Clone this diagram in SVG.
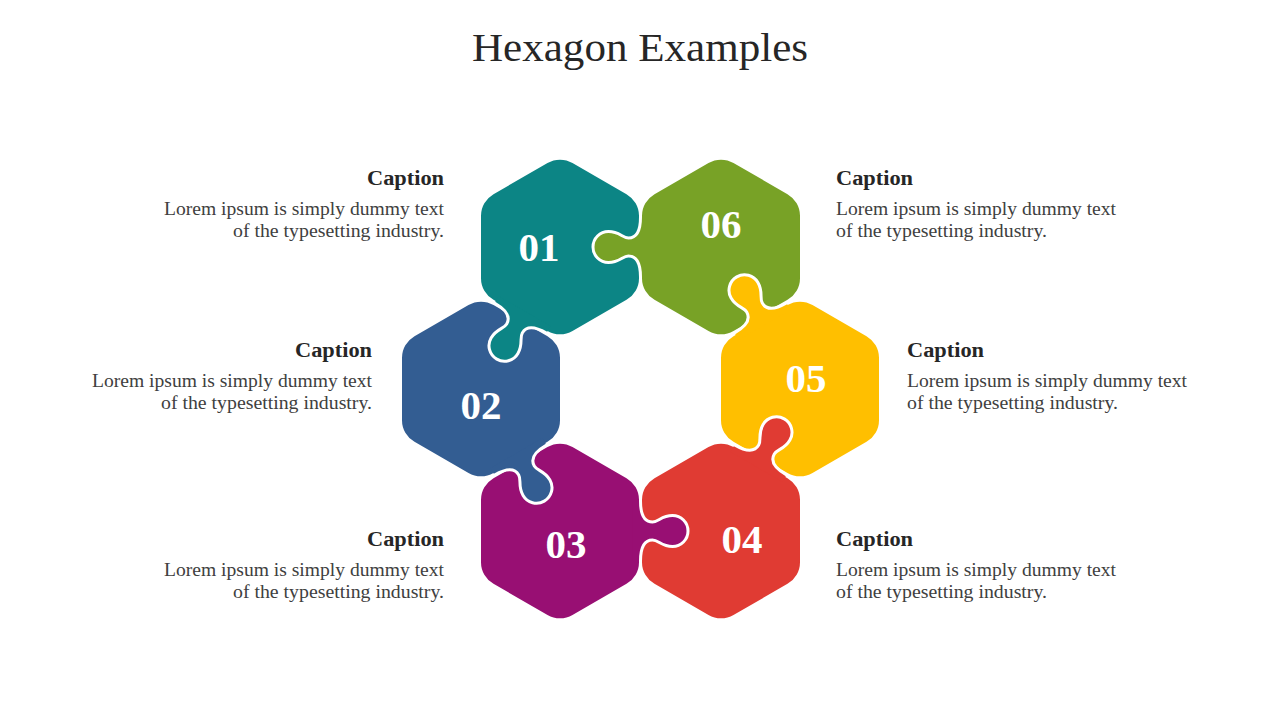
<svg xmlns="http://www.w3.org/2000/svg" xmlns:xlink="http://www.w3.org/1999/xlink" width="1280" height="720" viewBox="0 0 1280 720">
<style>
.title{font-family:"Liberation Serif","Times New Roman",serif;font-size:41px;fill:#262626}
.num{font-family:"Liberation Serif","Times New Roman",serif;font-size:41px;font-weight:bold;fill:#ffffff;text-anchor:middle}
.cap{font-family:"Liberation Serif","Times New Roman",serif;font-size:20px;font-weight:bold;fill:#262626}
.body{font-family:"Liberation Serif","Times New Roman",serif;font-size:19px;fill:#404040}
.end{text-anchor:end}
.line{fill:none;stroke:#ffffff;stroke-width:3;stroke-linejoin:round}
</style>
<defs>
<path id="hex" d="M12.5,-83.98 L66.5,-52.82 A25,25 0 0 1 79,-31.18 L79,31.18 A25,25 0 0 1 66.5,52.82 L12.5,83.98 A25,25 0 0 1 -12.5,83.98 L-66.5,52.82 A25,25 0 0 1 -79,31.18 L-79,-31.18 A25,25 0 0 1 -66.5,-52.82 L-12.5,-83.98 A25,25 0 0 1 12.5,-83.98 Z"/>
<path id="knobFill" d="M8,-30 L0,-30 C0,-16 -4,-9 -12,-9 C-18,-9 -21,-15.5 -32,-15.5 A15.5,15.5 0 0 0 -32,15.5 C-21,15.5 -18,9 -12,9 C-4,9 0,16 0,30 L8,30 Z"/>
<path id="knobLine" d="M0,-36 L0,-30 C0,-16 -4,-9 -12,-9 C-18,-9 -21,-15.5 -32,-15.5 A15.5,15.5 0 0 0 -32,15.5 C-21,15.5 -18,9 -12,9 C-4,9 0,16 0,30 L0,36"/>
</defs>
<rect width="1280" height="720" fill="#ffffff"/>
<text class="title" x="640" y="61" text-anchor="middle" textLength="336" lengthAdjust="spacingAndGlyphs">Hexagon Examples</text>

<g id="node01"><use xlink:href="#hex" transform="translate(560,247)" fill="#0c8585"/><text class="num" x="539" y="261">01</text></g>
<g id="node06"><use xlink:href="#hex" transform="translate(721,247)" fill="#78a226"/><text class="num" x="721" y="238">06</text></g>
<g id="node02"><use xlink:href="#hex" transform="translate(481,389)" fill="#335d92"/><text class="num" x="481" y="419">02</text></g>
<g id="node05"><use xlink:href="#hex" transform="translate(800,389)" fill="#ffbf00"/><text class="num" x="806" y="392">05</text></g>
<g id="node03"><use xlink:href="#hex" transform="translate(560,531)" fill="#980f73"/><text class="num" x="566" y="558">03</text></g>
<g id="node04"><use xlink:href="#hex" transform="translate(721,531)" fill="#e03b33"/><text class="num" x="742" y="553">04</text></g>

<g id="connectors">
<g transform="translate(640.5,247) rotate(0)"><use xlink:href="#knobFill" fill="#78a226"/><use xlink:href="#knobLine" class="line"/></g>
<g transform="translate(760.5,318) rotate(60)"><use xlink:href="#knobFill" fill="#ffbf00"/><use xlink:href="#knobLine" class="line"/></g>
<g transform="translate(760.5,460) rotate(120)"><use xlink:href="#knobFill" fill="#e03b33"/><use xlink:href="#knobLine" class="line"/></g>
<g transform="translate(640.5,531) rotate(180)"><use xlink:href="#knobFill" fill="#980f73"/><use xlink:href="#knobLine" class="line"/></g>
<g transform="translate(520.5,460) rotate(240)"><use xlink:href="#knobFill" fill="#335d92"/><use xlink:href="#knobLine" class="line"/></g>
<g transform="translate(520.5,318) rotate(300)"><use xlink:href="#knobFill" fill="#0c8585"/><use xlink:href="#knobLine" class="line"/></g>
</g>

<g id="caption01">
<text class="cap end" x="444" y="185" textLength="77" lengthAdjust="spacingAndGlyphs">Caption</text>
<text class="body end" x="444" y="215" textLength="280" lengthAdjust="spacingAndGlyphs">Lorem ipsum is simply dummy text</text>
<text class="body end" x="444" y="237" textLength="211" lengthAdjust="spacingAndGlyphs">of the typesetting industry.</text>
</g>
<g id="caption02">
<text class="cap end" x="372" y="357" textLength="77" lengthAdjust="spacingAndGlyphs">Caption</text>
<text class="body end" x="372" y="387" textLength="280" lengthAdjust="spacingAndGlyphs">Lorem ipsum is simply dummy text</text>
<text class="body end" x="372" y="409" textLength="211" lengthAdjust="spacingAndGlyphs">of the typesetting industry.</text>
</g>
<g id="caption03">
<text class="cap end" x="444" y="546" textLength="77" lengthAdjust="spacingAndGlyphs">Caption</text>
<text class="body end" x="444" y="576" textLength="280" lengthAdjust="spacingAndGlyphs">Lorem ipsum is simply dummy text</text>
<text class="body end" x="444" y="598" textLength="211" lengthAdjust="spacingAndGlyphs">of the typesetting industry.</text>
</g>
<g id="caption06">
<text class="cap" x="836" y="185" textLength="77" lengthAdjust="spacingAndGlyphs">Caption</text>
<text class="body" x="836" y="215" textLength="280" lengthAdjust="spacingAndGlyphs">Lorem ipsum is simply dummy text</text>
<text class="body" x="836" y="237" textLength="211" lengthAdjust="spacingAndGlyphs">of the typesetting industry.</text>
</g>
<g id="caption05">
<text class="cap" x="907" y="357" textLength="77" lengthAdjust="spacingAndGlyphs">Caption</text>
<text class="body" x="907" y="387" textLength="280" lengthAdjust="spacingAndGlyphs">Lorem ipsum is simply dummy text</text>
<text class="body" x="907" y="409" textLength="211" lengthAdjust="spacingAndGlyphs">of the typesetting industry.</text>
</g>
<g id="caption04">
<text class="cap" x="836" y="546" textLength="77" lengthAdjust="spacingAndGlyphs">Caption</text>
<text class="body" x="836" y="576" textLength="280" lengthAdjust="spacingAndGlyphs">Lorem ipsum is simply dummy text</text>
<text class="body" x="836" y="598" textLength="211" lengthAdjust="spacingAndGlyphs">of the typesetting industry.</text>
</g>
</svg>
